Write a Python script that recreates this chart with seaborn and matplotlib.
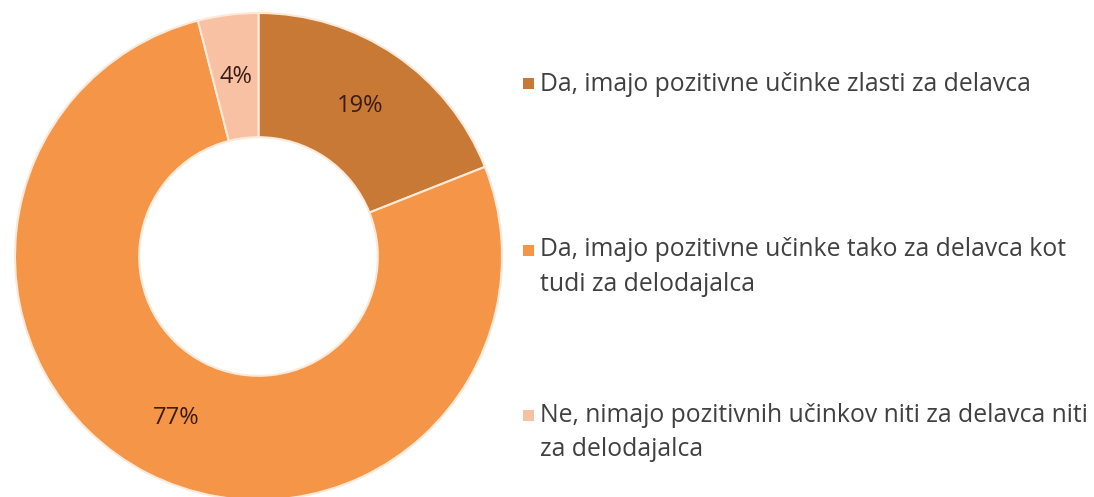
import matplotlib
matplotlib.use("Agg")
import matplotlib.pyplot as plt
import seaborn as sns
from matplotlib.patches import Rectangle

# podatki
labels = [
    "Da, imajo pozitivne učinke zlasti za delavca",
    "Da, imajo pozitivne učinke tako za delavca kot\ntudi za delodajalca",
    "Ne, nimajo pozitivnih učinkov niti za delavca niti\nza delodajalca",
]
shares = [19, 77, 4]
colors = ["#C97936", "#F49547", "#F8C1A3"]

sns.set_theme(style="white")
plt.rcParams["font.family"] = ["Open Sans", "DejaVu Sans"]

fig = plt.figure(figsize=(10.94, 4.97), dpi=100)
ax = fig.add_axes([15 / 1094, -3 / 497, 487 / 1094, 487 / 497])

wedges, texts, autotexts = ax.pie(
    shares,
    colors=colors,
    startangle=90,
    counterclock=False,
    radius=1,
    autopct="%d%%",
    pctdistance=0.745,
    wedgeprops=dict(width=0.51, edgecolor="#FCE9D8", linewidth=1.5),
    textprops=dict(fontsize=17, color="#3A1C14"),
)
ax.set_aspect("equal")
ax.set_xlim(-1, 1)
ax.set_ylim(-1, 1)
ax.axis("off")

# legenda: baseline of the first line of each entry, in pixels from the top
ys = [91, 258, 423]
line_px = 33
for lab, col, y in zip(labels, colors, ys):
    n_lines = lab.count("\n") + 1
    fig.patches.append(Rectangle((523 / 1094, 1 - (y - 2) / 497), 11 / 1094, 11 / 497,
                                 transform=fig.transFigure, facecolor=col, edgecolor="none"))
    y_last = y + (n_lines - 1) * line_px
    fig.text(540 / 1094, 1 - y_last / 497, lab, fontsize=17.8, color="#404040",
             va="baseline", ha="left", linespacing=1.5)

fig.savefig("out.png", dpi=100)
